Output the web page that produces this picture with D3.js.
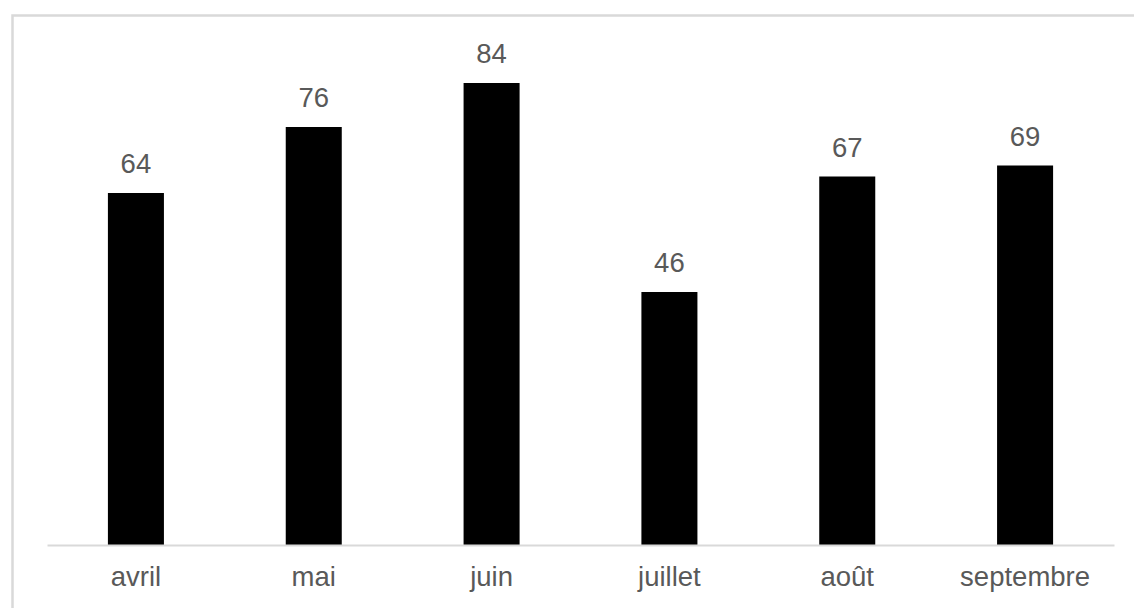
<!DOCTYPE html>
<html>
<head>
<meta charset="utf-8">
<script src="https://cdn.jsdelivr.net/npm/d3@7"></script>
<style>
  html, body { margin: 0; padding: 0; background: #ffffff; }
  svg { display: block; }
</style>
</head>
<body>
<svg id="chart" width="1134" height="608"></svg>
<script>
// Monthly values
const months = ["avril", "mai", "juin", "juillet", "août", "septembre"];
const values = [64, 76, 84, 46, 67, 69];

const W = 1134, H = 608;
const plot = { left: 47, right: 1114, top: 50, bottom: 545 };
const fontSize = 27.5;

const svg = d3.select("#chart");

// Chart frame (extends past the right and bottom edges)
svg.append("rect")
  .attr("x", 12.5).attr("y", 15.5)
  .attr("width", W + 20).attr("height", H + 20)
  .attr("fill", "#ffffff")
  .attr("stroke", "#d9d9d9")
  .attr("stroke-width", 2.5);

const x = d3.scaleBand()
  .domain(months)
  .range([plot.left, plot.right])
  .padding(0);

const y = d3.scaleLinear()
  .domain([0, 90])
  .range([plot.bottom, plot.top]);

const barW = x.bandwidth() * 0.315;

const data = months.map((m, i) => ({ month: m, value: values[i] }));

// Bars
svg.append("g")
  .selectAll("rect")
  .data(data)
  .join("rect")
  .attr("x", d => x(d.month) + (x.bandwidth() - barW) / 2)
  .attr("y", d => y(d.value))
  .attr("width", barW)
  .attr("height", d => y(0) - y(d.value))
  .attr("fill", "#000000");

// Value labels above bars
svg.append("g")
  .selectAll("text")
  .data(data)
  .join("text")
  .attr("x", d => x(d.month) + x.bandwidth() / 2)
  .attr("y", d => y(d.value) - 20)
  .attr("text-anchor", "middle")
  .attr("font-family", "Liberation Sans, Arial, sans-serif")
  .attr("font-size", fontSize)
  .attr("fill", "#595959")
  .text(d => d.value);

// Category axis
const xAxis = svg.append("g")
  .attr("transform", `translate(0,${plot.bottom})`)
  .call(d3.axisBottom(x).tickSize(0).tickPadding(0));
xAxis.select(".domain")
  .attr("stroke", "#d9d9d9")
  .attr("stroke-width", 2);
xAxis.selectAll(".tick text")
  .attr("y", 41)
  .attr("dy", 0)
  .attr("font-family", "Liberation Sans, Arial, sans-serif")
  .attr("font-size", fontSize)
  .attr("fill", "#595959");
</script>
</body>
</html>
